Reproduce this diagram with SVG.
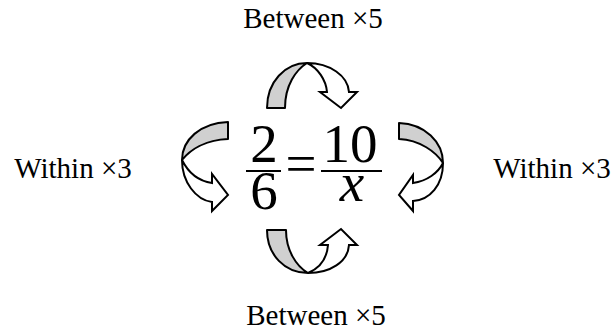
<svg xmlns="http://www.w3.org/2000/svg" width="613" height="331" viewBox="0 0 613 331">
<style>
.lbl{font-family:"Liberation Serif","Times New Roman",serif;font-size:29px;fill:#000}
.num{font-family:"Liberation Serif","Times New Roman",serif;font-size:55px;fill:#000}
.back{fill:#d0d0d0;stroke:#000;stroke-width:2;stroke-linejoin:round}
.front{fill:#fff;stroke:#000;stroke-width:2;stroke-linejoin:miter}
.bar{stroke:#000;stroke-width:2}
</style>
<rect width="613" height="331" fill="#fff"/>
<g id="equation">
<text class="num" x="264" y="162" text-anchor="middle">2</text>
<line class="bar" x1="246" y1="171" x2="281" y2="171"/>
<text class="num" x="264" y="209" text-anchor="middle">6</text>
<text class="num" x="301" y="182" text-anchor="middle">=</text>
<text class="num" x="350" y="162" text-anchor="middle">10</text>
<line class="bar" x1="321" y1="171" x2="382" y2="171"/>
<text class="num" x="352" y="201" text-anchor="middle" font-style="italic">x</text>
</g>
<g id="label-top"><text class="lbl" x="313" y="28" text-anchor="middle">Between ×5</text></g>
<g id="label-bottom"><text class="lbl" x="316" y="325" text-anchor="middle">Between ×5</text></g>
<g id="label-left"><text class="lbl" x="73" y="178" text-anchor="middle">Within ×3</text></g>
<g id="label-right"><text class="lbl" x="552" y="178" text-anchor="middle">Within ×3</text></g>
<g id="connectors">
<g id="arrow-top">
<path class="back" d="M267,108 C267,82 285,63 307,63 C296,70 285,85 285,108 Z"/>
<path class="front" d="M307,63 C330,63 348,76 349,92 L357,92 L341,108 L320,92 L327,92 C326,80 318,68 307,63 Z"/>
</g>
<g id="arrow-bottom">
<path class="back" d="M267,230 C267,255 285,273 308,273 C296,266 286,250 286,230 Z"/>
<path class="front" d="M308,273 C330,273 348,262 349,245 L357,245 L341,229 L320,245 L328,245 C327,258 320,268 308,273 Z"/>
</g>
<g id="arrow-left">
<path class="back" d="M228,122 C200,123 182,140 182,160 C190,150 205,140 228,139 Z"/>
<path class="front" d="M182,160 C182,182 196,200 212,202 L212,211 L228,195 L212,174 L212,183 C198,181 188,172 182,160 Z"/>
</g>
<g id="arrow-right">
<path class="back" d="M399,123 C425,124 443,142 443,163 C436,152 420,140 399,139 Z"/>
<path class="front" d="M443,163 C443,185 430,200 413,201 L413,211 L399,195 L413,175 L413,183 C427,181 438,173 443,163 Z"/>
</g>
</g>
</svg>
